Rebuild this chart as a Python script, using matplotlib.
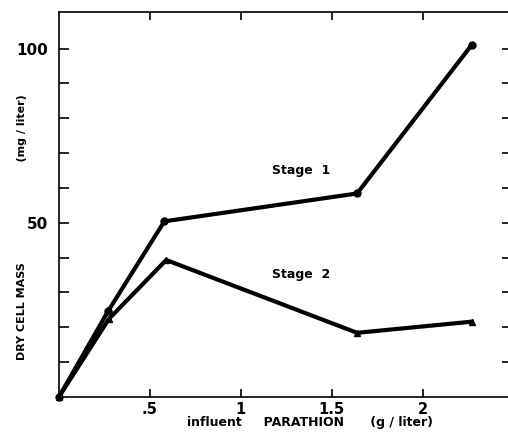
import numpy as np
import matplotlib.pyplot as plt

# influent parathion (g/liter) vs dry cell mass (mg/liter)
stage1_x = [0.0, 0.27, 0.58, 1.64, 2.27]
stage1_y = [0.0, 24.6, 50.4, 58.4, 101.0]
stage2_x = [0.0, 0.275, 0.59, 1.64, 2.27]
stage2_y = [0.0, 22.4, 39.3, 18.4, 21.6]

xticks = [0.5, 1.0, 1.5, 2.0]
xticklabels = ['.5', '1', '1.5', '2']
yticks = [10, 20, 30, 40, 50, 60, 70, 80, 90, 100]
ylabeled = {50: '50', 100: '100'}

plt.rcParams['font.family'] = 'DejaVu Sans'
plt.rcParams['font.weight'] = 'bold'

fig = plt.figure(figsize=(5.08, 4.43), dpi=100)
ax = fig.add_axes([0.116, 0.104, 0.884, 0.869])

ax.plot(stage1_x, stage1_y, color='black', lw=3, marker='o', ms=5,
        solid_joinstyle='miter', clip_on=False)
ax.plot(stage2_x, stage2_y, color='black', lw=3, marker='^', ms=5,
        solid_joinstyle='miter', clip_on=False)

ax.text(1.33, 65, 'Stage  1', fontsize=9, fontweight='bold', ha='center', va='center')
ax.text(1.33, 35, 'Stage  2', fontsize=9, fontweight='bold', ha='center', va='center')

ax.set_xlim(0, 2.47)
ax.set_ylim(0, 110.5)

ax.spines['right'].set_visible(False)
for s in ['left', 'bottom', 'top']:
    ax.spines[s].set_linewidth(1.2)

ax.set_xticks(xticks)
ax.set_xticklabels(xticklabels, fontsize=10.5, fontweight='bold')
ax.set_yticks(yticks)
ax.set_yticklabels([ylabeled.get(v, '') for v in yticks], fontsize=11, fontweight='bold')

ax.tick_params(axis='x', direction='in', top=True, length=6, width=1.2, pad=4)
ax.tick_params(axis='y', direction='in', right=True, length=7, width=1.2, pad=8)
for t in ax.yaxis.get_major_ticks():
    t.tick2line.set_markersize(4)

ax.set_xlabel('influent     PARATHION      (g / liter)', fontsize=9, fontweight='bold')
ax.xaxis.set_label_coords(0.56, -0.05)
ax.set_ylabel('DRY CELL MASS' + ' ' * 26 + '(mg / liter)', fontsize=8, fontweight='bold')
ax.yaxis.set_label_coords(-0.07, 0.44)

fig.savefig('out.png', dpi=100)
